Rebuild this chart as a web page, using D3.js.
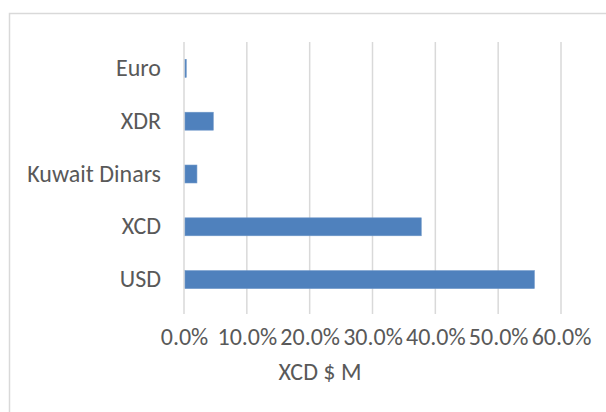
<!DOCTYPE html>
<html>
<head>
<meta charset="utf-8">
<script src="https://cdn.jsdelivr.net/npm/d3@7"></script>
<style>
  body { margin: 0; background: #fff; }
  text { font-family: Carlito, Lato, sans-serif; fill: #595959; }
</style>
</head>
<body>
<svg id="chart" width="606" height="412"></svg>
<script>
// data
const categories = ["Euro", "XDR", "Kuwait Dinars", "XCD", "USD"];
const shares = [0.002, 0.045, 0.019, 0.376, 0.556];
const ticks = [0, 0.1, 0.2, 0.3, 0.4, 0.5, 0.6];
const axisTitle = "XCD $ M";

const svg = d3.select("#chart");
const margin = {top: 42, left: 184, right: 45, bottom: 106};
const width = 606 - margin.left - margin.right,
      height = 412 - margin.top - margin.bottom;
const fontSize = "24px";

// chart area border (runs off the right and bottom of the picture)
svg.append("rect")
  .attr("x", 9.5).attr("y", 13.5)
  .attr("width", 700).attr("height", 500)
  .attr("fill", "none")
  .attr("stroke", "#d9d9d9")
  .attr("stroke-width", 1.5);

const g = svg.append("g")
  .attr("transform", `translate(${margin.left},${margin.top})`);

const x = d3.scaleLinear().domain([0, 0.6]).range([0, width]);
const y = d3.scaleBand().domain(categories).range([0, height]).paddingInner(0.66).paddingOuter(0.33);

// vertical gridlines
g.selectAll(".grid")
  .data(ticks)
  .enter()
  .append("line")
    .attr("x1", d => x(d)).attr("x2", d => x(d))
    .attr("y1", 0).attr("y2", height + 8)
    .attr("stroke", "#d9d9d9")
    .attr("stroke-width", 1.5);

// bars
g.selectAll(".bar")
  .data(categories)
  .enter()
  .append("rect")
    .attr("x", x(0) + 1)
    .attr("y", d => y(d))
    .attr("width", (d, i) => Math.max(1, x(shares[i]) - x(0)))
    .attr("height", y.bandwidth())
    .attr("fill", "#4f81bd")
    .attr("stroke", "#6d96c8")
    .attr("stroke-width", 0.6);

// category labels
const yAxis = g.append("g").call(d3.axisLeft(y).tickSize(0).tickPadding(23));
yAxis.select(".domain").remove();
yAxis.selectAll("text")
  .style("font-size", fontSize)
  .style("font-family", "Carlito, Lato, sans-serif")
  .attr("fill", "#595959");

// value labels
const xAxis = g.append("g")
  .attr("transform", `translate(0,${height})`)
  .call(d3.axisBottom(x).tickValues(ticks).tickFormat(d3.format(".1%")).tickSize(0).tickPadding(22));
xAxis.select(".domain").remove();
xAxis.selectAll("text")
  .style("font-size", fontSize)
  .style("font-family", "Carlito, Lato, sans-serif")
  .attr("fill", "#595959");

// axis title
svg.append("text")
  .attr("x", 320)
  .attr("y", 380)
  .attr("text-anchor", "middle")
  .style("font-size", fontSize)
  .text(axisTitle);
</script>
</body>
</html>
